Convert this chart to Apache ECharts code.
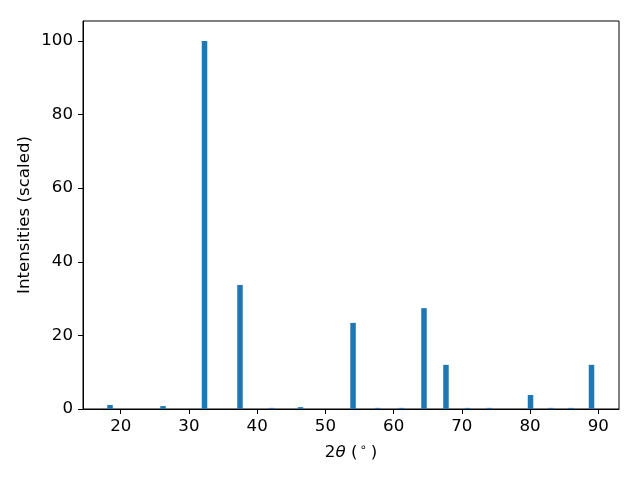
<!DOCTYPE html>
<html>
<head>
<meta charset="utf-8">
<script src="https://cdn.jsdelivr.net/npm/echarts@6/dist/echarts.min.js"></script>
<style>html,body{margin:0;padding:0;background:#fff}#c{width:640px;height:480px}</style>
</head>
<body>
<div id="c"></div>
<script>
var twoTheta = [18.43, 26.20, 32.28, 37.48, 42.10, 46.35, 54.05, 57.64, 61.08, 64.45, 67.67, 70.83, 73.98, 80.06, 83.07, 86.00, 89.00];
var intensities = [1.1, 0.8, 100, 33.7, 0.3, 0.5, 23.4, 0.3, 0.3, 27.4, 12.0, 0.3, 0.3, 3.8, 0.3, 0.3, 12.0];
var xTicks = [20, 30, 40, 50, 60, 70, 80, 90];
var yTicks = [0, 20, 40, 60, 80, 100];

var chart = echarts.init(document.getElementById('c'), null, {renderer: 'canvas'});
var font = 'DejaVu Sans';
var fs = 16.67;
chart.setOption({
  animation: false,
  grid: {left: 83, right: 21, top: 21, bottom: 71, show: true, borderColor: '#000', borderWidth: 1, backgroundColor: 'transparent'},
  xAxis: {
    type: 'value', min: 14.47, max: 93.03,
    name: '{n|2}{t|θ}{n| (}{s|∘}{n|)}', nameLocation: 'middle', nameGap: 33, nameMoveOverlap: false,
    nameTextStyle: {
      rich: {
        n: {fontFamily: font, fontSize: fs, color: '#000'},
        t: {fontFamily: font, fontSize: fs, fontStyle: 'italic', color: '#000'},
        s: {fontFamily: font, fontSize: 11.5, color: '#000', verticalAlign: 'top', padding: [0, 4, 9, 2]}
      }
    },
    axisLine: {show: true, onZero: false, lineStyle: {color: '#000', width: 1}},
    axisTick: {show: true, length: 5, lineStyle: {color: '#000'}, customValues: xTicks},
    axisLabel: {color: '#000', fontFamily: font, fontSize: fs, margin: 9, customValues: xTicks},
    splitLine: {show: false}
  },
  yAxis: {
    type: 'value', min: 0, max: 105.4,
    name: 'Intensities (scaled)', nameLocation: 'middle', nameGap: 50, nameMoveOverlap: false,
    nameTextStyle: {color: '#000', fontFamily: font, fontSize: fs},
    axisLine: {show: true, lineStyle: {color: '#000', width: 1}},
    axisTick: {show: true, length: 5, lineStyle: {color: '#000'}, customValues: yTicks},
    axisLabel: {color: '#000', fontFamily: font, fontSize: fs, margin: 10, customValues: yTicks},
    splitLine: {show: false}
  },
  series: [{
    type: 'bar',
    barWidth: 5.5,
    itemStyle: {color: '#1f77b4'},
    data: twoTheta.map(function (x, i) { return [x, intensities[i]]; })
  }]
});
</script>
</body>
</html>
